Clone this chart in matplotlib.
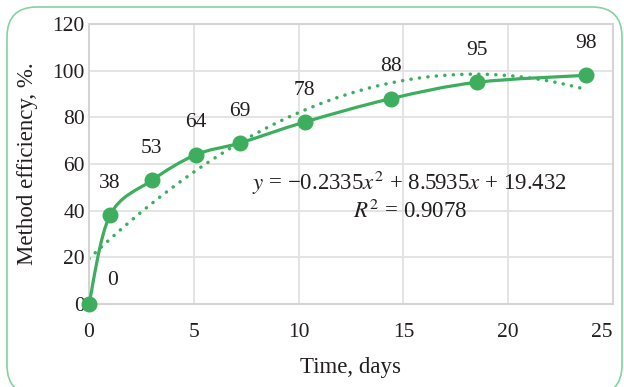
import numpy as np
import matplotlib.pyplot as plt
from matplotlib.path import Path
from matplotlib.patches import PathPatch, FancyBboxPatch

# values
days = [0, 1.0, 3.0, 5.1, 7.2, 10.3, 14.4, 18.5, 23.7]
efficiency = [0, 38, 53, 64, 69, 78, 88, 95, 98]
point_labels = ['0', '38', '53', '64', '69', '78', '88', '95', '98']
trend_coef = [-0.2335, 8.5935, 19.432]   # y = a x^2 + b x + c
trend_span = [0.0, 23.5]
x_ticks = [0, 5, 10, 15, 20, 25]
y_ticks = [0, 20, 40, 60, 80, 100, 120]

GREEN = '#3cae5e'
TEXT = '#231f20'
FS = 15.5
W, H = 624, 387

plt.rcParams['font.family'] = ['Liberation Serif', 'DejaVu Serif']
plt.rcParams['mathtext.fontset'] = 'stix'

fig = plt.figure(figsize=(W / 100, H / 100), dpi=100)
ax = fig.add_axes([89/W, 83/H, (613-89)/W, (304-24)/H])

# rounded frame around the whole chart
frame = FancyBboxPatch((7/W, -8/H), 615/W, 388/H,
                       boxstyle='round,pad=0,rounding_size=%f' % (30/W),
                       mutation_aspect=W/H,
                       transform=fig.transFigure, facecolor='none',
                       edgecolor='#84d2a1', linewidth=1.2, clip_on=False)
fig.patches.append(frame)

ax.set_xlim(0, 25)
ax.set_ylim(0, 120)
ax.set_xticks(x_ticks)
ax.set_yticks(y_ticks)
ax.grid(True, color='#e2e2e2', linewidth=1.3)
ax.set_axisbelow(True)
for s in ax.spines.values():
    s.set_color('#d4d4d4')
    s.set_linewidth(1.5)
ax.tick_params(length=0, labelsize=FS, colors=TEXT)
ax.tick_params(axis='y', pad=3)
ax.tick_params(axis='x', pad=14)
ax.get_xticklabels()[-1].set_horizontalalignment('right')

# smoothed line (catmull-rom as bezier segments)
pts = np.column_stack([days, efficiency])
verts = [pts[0]]
codes = [Path.MOVETO]
n = len(pts)
for i in range(n - 1):
    p0 = pts[max(i - 1, 0)]
    p1 = pts[i]
    p2 = pts[i + 1]
    p3 = pts[min(i + 2, n - 1)]
    c1 = p1 + (p2 - p0) / 6.0
    c2 = p2 - (p3 - p1) / 6.0
    verts += [c1, c2, p2]
    codes += [Path.CURVE4] * 3
ax.add_patch(PathPatch(Path(verts, codes), facecolor='none', edgecolor=GREEN,
                       linewidth=2.3, zorder=3, capstyle='round', joinstyle='round'))
ax.plot(days, efficiency, 'o', color=GREEN, markersize=10.5, zorder=4, clip_on=False)

# polynomial trendline
tx = np.linspace(trend_span[0], trend_span[1], 200)
ty = np.polyval(trend_coef, tx)
ax.plot(tx, ty, color=GREEN, linewidth=2.5, linestyle=(0, (0.05, 2.4)),
        dash_capstyle='round', zorder=2)

# data labels
for i, (x, y, lab) in enumerate(zip(days, efficiency, point_labels)):
    if i == 0:
        ax.annotate(lab, (x, y), xytext=(17, 17), textcoords='offset points',
                    ha='center', va='center', fontsize=FS, color=TEXT)
    else:
        ax.annotate(lab, (x, y), xytext=(0, 23), textcoords='offset points',
                    ha='center', va='center', fontsize=FS, color=TEXT)

ax.text(15.3, 52.0, '$y$ = \u22120.2335$x^2$ + 8.5935$x$ + 19.432',
        ha='center', va='center', fontsize=16.5, color=TEXT)
ax.text(15.3, 39.5, '$R^2$ = 0.9078',
        ha='center', va='center', fontsize=16.5, color=TEXT)

ax.set_xlabel('Time, days', fontsize=16.5, color=TEXT)
ax.set_ylabel('Method efficiency, %.', fontsize=16.5, color=TEXT)
ax.xaxis.set_label_coords(0.5, -(367 - 304) / 280, transform=ax.transAxes)
ax.yaxis.set_label_coords(-(89 - 28) / 524, 0.5, transform=ax.transAxes)
ax.xaxis.label.set_va('center')
ax.yaxis.label.set_va('center')

fig.savefig('out.png', dpi=100)
